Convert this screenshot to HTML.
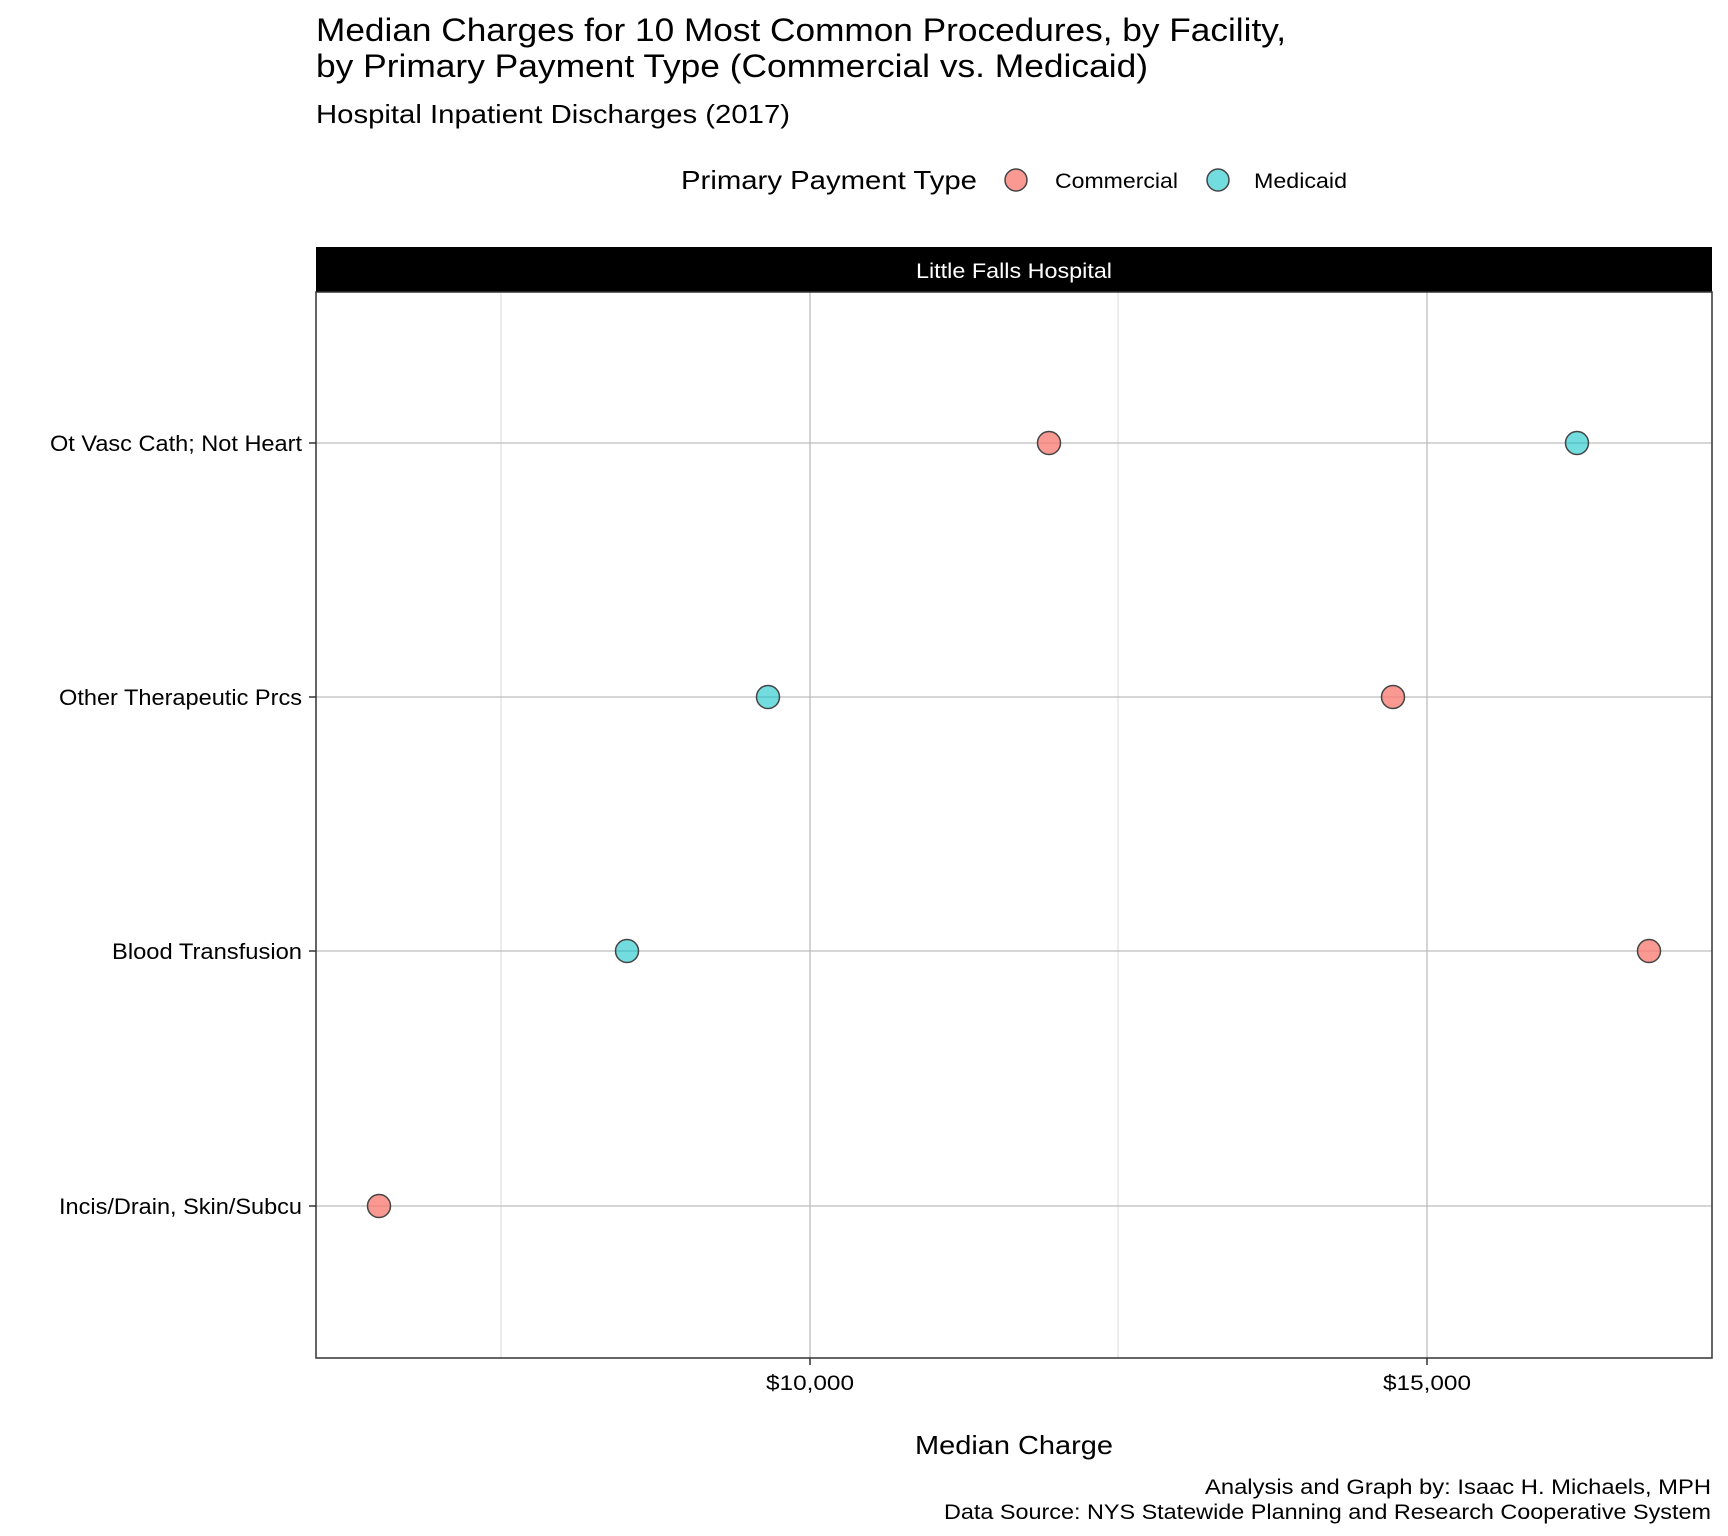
<!DOCTYPE html>
<html><head><meta charset="utf-8"><style>
html,body{margin:0;padding:0;background:#fff}
svg{display:block;font-family:"Liberation Sans",Arial,sans-serif}
</style></head><body>
<svg width="1728" height="1536" viewBox="0 0 1728 1536" xmlns="http://www.w3.org/2000/svg">
<rect width="1728" height="1536" fill="#fff"/>
<text x="316" y="41" font-size="32" textLength="970" lengthAdjust="spacingAndGlyphs">Median Charges for 10 Most Common Procedures, by Facility,</text>
<text x="316" y="77" font-size="32" textLength="832" lengthAdjust="spacingAndGlyphs">by Primary Payment Type (Commercial vs. Medicaid)</text>
<text x="316" y="123" font-size="26" textLength="474" lengthAdjust="spacingAndGlyphs">Hospital Inpatient Discharges (2017)</text>
<text x="681" y="189" font-size="26" textLength="296" lengthAdjust="spacingAndGlyphs">Primary Payment Type</text>
<circle cx="1016" cy="180" r="11" fill="#F8766D" fill-opacity="0.75" stroke="#444" stroke-width="1.5"/>
<text x="1055" y="188" font-size="21" textLength="123" lengthAdjust="spacingAndGlyphs">Commercial</text>
<circle cx="1218" cy="180" r="11" fill="#00BFC4" fill-opacity="0.55" stroke="#444" stroke-width="1.5"/>
<text x="1254" y="188" font-size="21" textLength="93" lengthAdjust="spacingAndGlyphs">Medicaid</text>
<rect x="316" y="247" width="1396" height="45" fill="#000"/>
<text x="1014" y="278" font-size="21" fill="#fff" text-anchor="middle" textLength="196" lengthAdjust="spacingAndGlyphs">Little Falls Hospital</text>
<g stroke="#e0e0e0" stroke-width="1.2">
<line x1="501" y1="292" x2="501" y2="1358"/><line x1="1118" y1="292" x2="1118" y2="1358"/>
</g>
<g stroke="#bdbdbd" stroke-width="1.3">
<line x1="810" y1="292" x2="810" y2="1358"/><line x1="1427" y1="292" x2="1427" y2="1358"/>
<line x1="316" y1="443" x2="1712" y2="443"/><line x1="316" y1="697" x2="1712" y2="697"/>
<line x1="316" y1="951" x2="1712" y2="951"/><line x1="316" y1="1206" x2="1712" y2="1206"/>
</g>
<rect x="316" y="292" width="1396" height="1066" fill="none" stroke="#333" stroke-width="1.5"/>
<g stroke="#333" stroke-width="1.5">
<line x1="309" y1="443" x2="316" y2="443"/><line x1="309" y1="697" x2="316" y2="697"/>
<line x1="309" y1="951" x2="316" y2="951"/><line x1="309" y1="1206" x2="316" y2="1206"/>
<line x1="810" y1="1358" x2="810" y2="1365"/><line x1="1427" y1="1358" x2="1427" y2="1365"/>
</g>
<g font-size="22" text-anchor="end" fill="#000" lengthAdjust="spacingAndGlyphs">
<text x="302" y="451" textLength="252" lengthAdjust="spacingAndGlyphs">Ot Vasc Cath; Not Heart</text>
<text x="302" y="705" textLength="243" lengthAdjust="spacingAndGlyphs">Other Therapeutic Prcs</text>
<text x="302" y="959" textLength="190" lengthAdjust="spacingAndGlyphs">Blood Transfusion</text>
<text x="302" y="1214" textLength="243" lengthAdjust="spacingAndGlyphs">Incis/Drain, Skin/Subcu</text>
</g>
<g font-size="21" text-anchor="middle">
<text x="810" y="1390" textLength="88" lengthAdjust="spacingAndGlyphs">$10,000</text>
<text x="1427" y="1390" textLength="88" lengthAdjust="spacingAndGlyphs">$15,000</text>
</g>
<text x="1014" y="1454" font-size="26" text-anchor="middle" textLength="198" lengthAdjust="spacingAndGlyphs">Median Charge</text>
<g font-size="21" text-anchor="end">
<text x="1711" y="1494" textLength="506" lengthAdjust="spacingAndGlyphs">Analysis and Graph by: Isaac H. Michaels, MPH</text>
<text x="1711" y="1519" textLength="767" lengthAdjust="spacingAndGlyphs">Data Source: NYS Statewide Planning and Research Cooperative System</text>
</g>
<g stroke="#444" stroke-width="1.5">
<circle cx="1049" cy="443" r="11.5" fill="#F8766D" fill-opacity="0.75"/>
<circle cx="1577" cy="443" r="11.5" fill="#00BFC4" fill-opacity="0.55"/>
<circle cx="768" cy="697" r="11.5" fill="#00BFC4" fill-opacity="0.55"/>
<circle cx="1393" cy="697" r="11.5" fill="#F8766D" fill-opacity="0.75"/>
<circle cx="627" cy="951" r="11.5" fill="#00BFC4" fill-opacity="0.55"/>
<circle cx="1649" cy="951" r="11.5" fill="#F8766D" fill-opacity="0.75"/>
<circle cx="379" cy="1206" r="11.5" fill="#F8766D" fill-opacity="0.75"/>
</g>
</svg>
</body></html>
